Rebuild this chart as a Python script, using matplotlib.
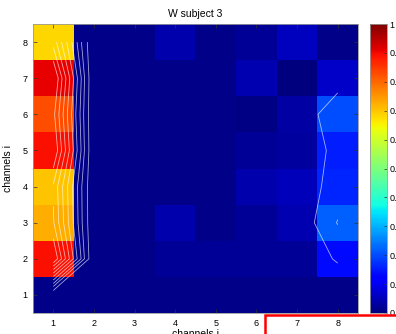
import numpy as np
import matplotlib
matplotlib.use('Agg')
import matplotlib.pyplot as plt
from matplotlib.patches import Rectangle

# channel indices (x = channels j, y = channels i)
channels = [1, 2, 3, 4, 5, 6, 7, 8]
tick_labels = ['1', '2', '3', '4', '5', '6', '7', '8']

# W matrix, one list per row (channel i = 1..8), columns channel j = 1..8
row1 = [0.01, 0.01, 0.01, 0.01, 0.01, 0.01, 0.01, 0.01]
row2 = [0.894, 0.01, 0.01, 0.02, 0.02, 0.02, 0.02, 0.135]
row3 = [0.725, 0.01, 0.01, 0.04, 0.01, 0.02, 0.045, 0.222]
row4 = [0.703, 0.01, 0.01, 0.01, 0.01, 0.04, 0.054, 0.164]
row5 = [0.894, 0.01, 0.01, 0.01, 0.01, 0.02, 0.03, 0.155]
row6 = [0.826, 0.01, 0.01, 0.01, 0.01, 0.005, 0.035, 0.20]
row7 = [0.908, 0.01, 0.01, 0.01, 0.01, 0.045, 0.0, 0.065]
row8 = [0.682, 0.01, 0.01, 0.04, 0.01, 0.02, 0.055, 0.01]

contour_levels = [0.12, 0.217, 0.29, 0.375, 0.46, 0.545, 0.63, 0.715, 0.80]

cbar_ticks = [0.0, 0.1, 0.2, 0.3, 0.4, 0.5, 0.6, 0.7, 0.8, 0.9, 1.0]
cbar_labels = ['0', '0.1', '0.2', '0.3', '0.4', '0.5', '0.6', '0.7', '0.8', '0.9', '1']

W = np.array([row1, row2, row3, row4, row5, row6, row7, row8])

plt.rcParams['font.family'] = ['Liberation Sans', 'DejaVu Sans']

FW, FH = 396, 334
fig = plt.figure(figsize=(FW / 100, FH / 100), dpi=100)

ax = fig.add_axes([33 / FW, 21 / FH, 325 / FW, 289 / FH])
im = ax.imshow(W, cmap='jet', vmin=0, vmax=1, origin='lower',
               extent=[0.5, 8.5, 0.5, 8.5], aspect='auto',
               interpolation='nearest')
ax.contour(channels, channels, W, levels=contour_levels, colors='white',
           linewidths=0.6, alpha=0.65)

ax.set_xlim(0.5, 8.5)
ax.set_ylim(0.5, 8.5)
ax.set_xticks(channels)
ax.set_xticklabels(tick_labels)
ax.set_yticks(channels)
ax.set_yticklabels(tick_labels)
ax.tick_params(direction='in', length=3, width=0.5, labelsize=6.5,
               top=True, right=True, color='#333333', pad=4)
for s in ax.spines.values():
    s.set_linewidth(0.6)
    s.set_color('#999999')

ax.set_xlabel('channels j', fontsize=7.5, va='top')
ax.xaxis.set_label_coords(0.5, -(329 - 313) / 289)
ax.set_ylabel('channels i', fontsize=7.5, va='center')
ax.yaxis.set_label_coords(-(33 - 8) / 325, 0.5)

fig.text(195.5 / FW, 1 - 14 / FH, 'W subject 3', ha='center', va='center',
         fontsize=7.5)

cax = fig.add_axes([370 / FW, 21 / FH, 17 / FW, 289 / FH])
cb = fig.colorbar(im, cax=cax, ticks=cbar_ticks)
cb.ax.set_yticklabels(cbar_labels)
cax.tick_params(direction='in', length=2.5, width=0.5, labelsize=6.5,
                color='#333333', pad=2)
cb.outline.set_linewidth(0.6)
cb.outline.set_edgecolor('#999999')

rect = Rectangle((265 / FW, -0.05), 1.0, (334 - 315) / FH + 0.05,
                 transform=fig.transFigure, fill=False, edgecolor='red',
                 linewidth=1.8, clip_on=False)
fig.add_artist(rect)

fig.savefig('out.png', dpi=100)
